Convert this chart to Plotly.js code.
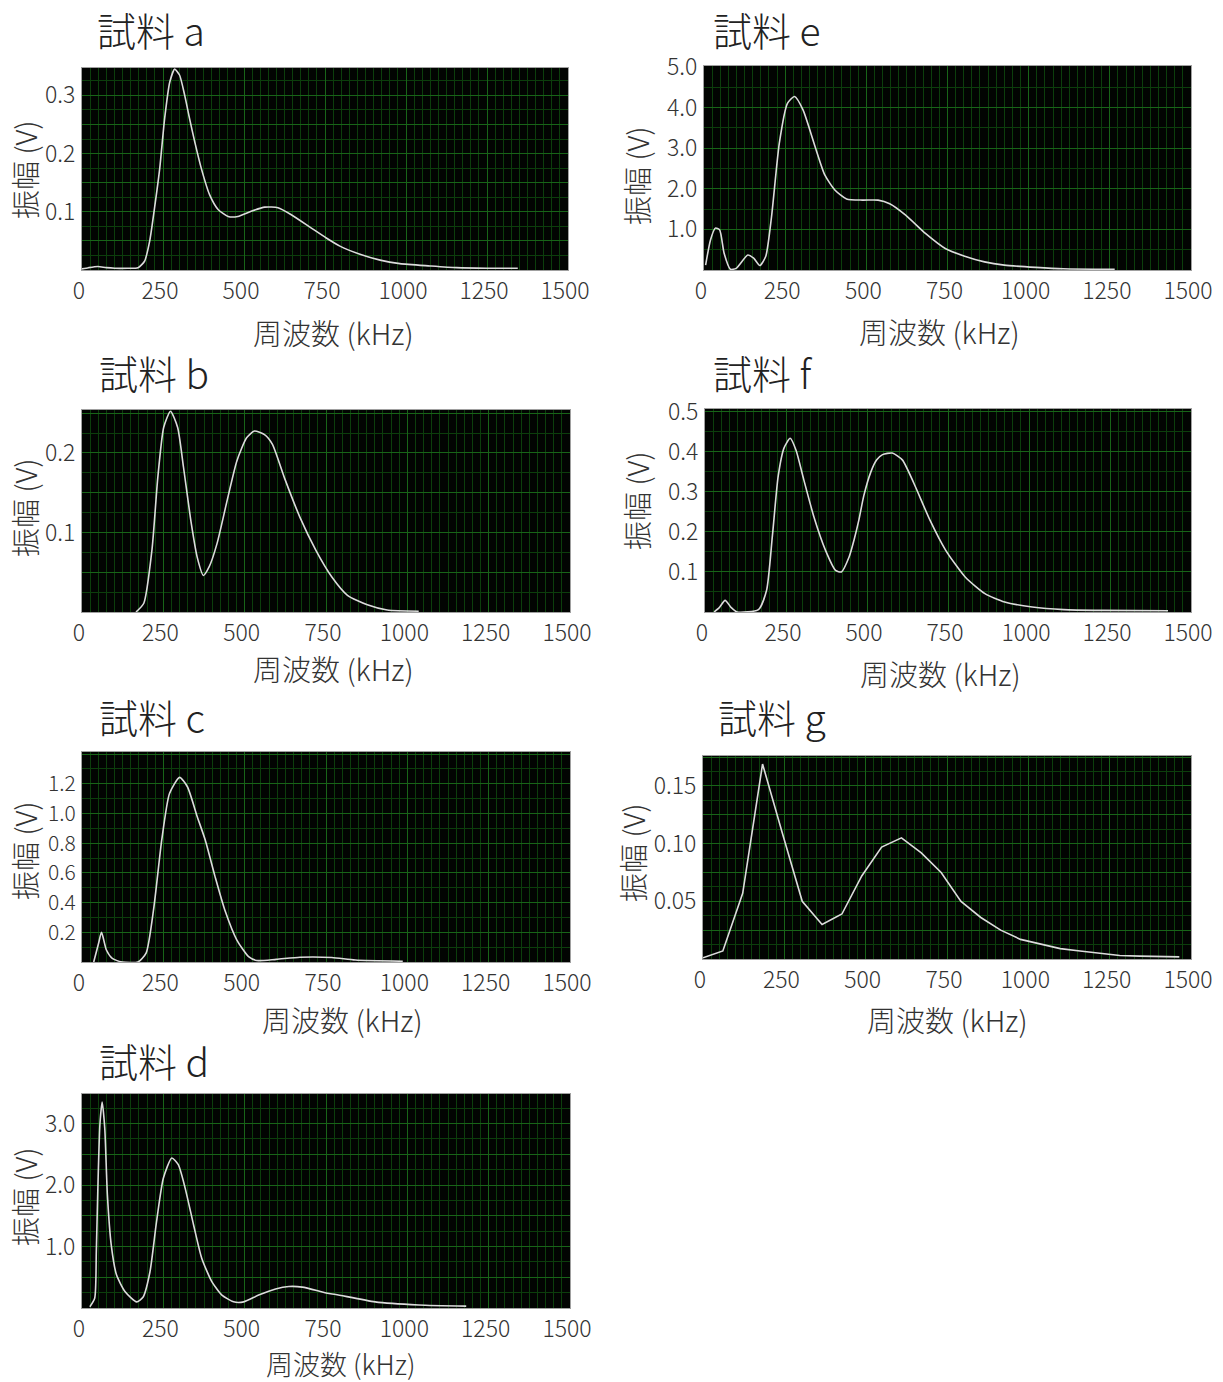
<!DOCTYPE html>
<html>
<head>
<meta charset="utf-8">
<script src="https://cdn.plot.ly/plotly-3.0.1.min.js"></script>
<style>
html,body{margin:0;padding:0;background:#ffffff;}
#chart{width:1223px;height:1382px;}
</style>
</head>
<body>
<div id="chart"></div>
<script>
// ---------- DATA ----------
const sampleNames = ['試料 a','試料 b','試料 c','試料 d','試料 e','試料 f','試料 g'];
const xAxisTitle = '周波数 (kHz)';
const yAxisTitle = '振幅 (V)';
const xTickVals = [0,250,500,750,1000,1250,1500];
const xTickText = ['0','250','500','750','1000','1250','1500'];

const freqA = [0,20,49,75,101,140,173,193,209,224,240,255,271,286,301,317,332,348,368,394,420,451,481,522,564,605,646,708,754,796,858,920,981,1074,1156,1250,1345];
const ampA  = [0.002,0.004,0.006,0.004,0.003,0.003,0.004,0.015,0.05,0.107,0.175,0.26,0.323,0.345,0.335,0.30,0.26,0.22,0.175,0.129,0.104,0.092,0.092,0.101,0.108,0.107,0.095,0.072,0.055,0.041,0.027,0.017,0.011,0.007,0.004,0.003,0.003];

const freqB = [166,190,215,233,251,272,294,312,336,354,373,391,415,446,476,506,530,561,585,622,670,719,768,816,877,938,1035];
const ampB  = [0,0.011,0.078,0.169,0.232,0.2525,0.232,0.182,0.111,0.069,0.046,0.057,0.086,0.14,0.19,0.219,0.2275,0.223,0.211,0.169,0.119,0.0775,0.044,0.021,0.009,0.0025,0.001];

const freqC = [36,51,60,75,93,124,172,197,221,245,269,300,324,354,379,409,439,476,512,537,597,670,768,840,986];
const ampC  = [0,0.126,0.2,0.081,0.025,0,0,0.06,0.37,0.82,1.135,1.243,1.18,0.98,0.82,0.575,0.35,0.148,0.036,0.01,0.018,0.032,0.03,0.013,0.005];

const freqD = [24,39,44,49,55,62,70,78,90,106,132,168,188,209,229,250,276,296,317,343,368,399,430,466,497,543,595,636,677,754,780,901,1035,1181];
const ampD  = [0.02,0.16,0.92,2.0,2.98,3.35,2.92,1.84,1.02,0.54,0.27,0.10,0.18,0.59,1.40,2.11,2.44,2.33,1.95,1.35,0.81,0.43,0.21,0.10,0.10,0.21,0.31,0.35,0.34,0.24,0.22,0.10,0.05,0.03];

const freqE = [5,20,35,48,62,81,99,135,153,172,190,208,232,257,279,305,342,372,403,439,488,536,572,621,682,743,803,864,925,1022,1107,1265];
const ampE  = [0.12,0.74,1.03,0.99,0.41,0.02,0.04,0.37,0.29,0.11,0.33,1.31,3.12,4.10,4.27,3.94,3.04,2.34,1.97,1.75,1.72,1.72,1.63,1.35,0.90,0.53,0.34,0.20,0.12,0.065,0.03,0.015];

const freqF = [28,44,62,81,99,165,190,208,226,244,263,281,305,336,372,403,421,445,460,475,490,512,530,548,578,609,645,694,743,803,864,925,1010,1107,1228,1429];
const ampF  = [0,0.011,0.029,0.011,0,0.006,0.054,0.19,0.34,0.41,0.434,0.404,0.33,0.238,0.154,0.104,0.10,0.138,0.18,0.23,0.29,0.35,0.38,0.393,0.397,0.38,0.321,0.23,0.154,0.0875,0.046,0.025,0.0125,0.006,0.004,0.003];

const freqG = [0,61,122,183,244,305,366,427,488,549,610,671,732,793,854,915,976,1037,1098,1159,1220,1281,1342,1403,1464];
const ampG  = [0.001,0.007,0.057,0.169,0.109,0.050,0.030,0.039,0.072,0.097,0.105,0.092,0.075,0.050,0.036,0.025,0.017,0.013,0.009,0.007,0.005,0.003,0.0025,0.002,0.0018];

// y tick values / labels per panel
const yTickValsA = [0.05,0.1,0.15,0.2,0.25,0.3];      const yTickTextA = ['','0.1','','0.2','','0.3'];
const yTickValsB = [0.05,0.1,0.15,0.2,0.25];          const yTickTextB = ['','0.1','','0.2',''];
const yTickValsC = [0.2,0.4,0.6,0.8,1.0,1.2,1.4];     const yTickTextC = ['0.2','0.4','0.6','0.8','1.0','1.2',''];
const yTickValsD = [0.5,1.0,1.5,2.0,2.5,3.0];         const yTickTextD = ['','1.0','','2.0','','3.0'];
const yTickValsE = [1,2,3,4,5];                       const yTickTextE = ['1.0','2.0','3.0','4.0','5.0'];
const yTickValsF = [0.1,0.2,0.3,0.4,0.5];             const yTickTextF = ['0.1','0.2','0.3','0.4','0.5'];
const yTickValsG = [0.025,0.05,0.075,0.1,0.125,0.15,0.175]; const yTickTextG = ['','0.05','','0.10','','0.15',''];

// ---------- PANEL GEOMETRY (pixels) ----------
const W = 1223, H = 1382;
const panels = [
  {f:freqA,a:ampA,tv:yTickValsA,tt:yTickTextA,minor:0.025,yr:[0,0.347],L:82,R:568,T:68,B:270, tx:95,ty:29, xtx:333,xty:332, xts:29, ytx:24,yty:170, yfs:23, shape:'spline'},
  {f:freqB,a:ampB,tv:yTickValsB,tt:yTickTextB,minor:0.025,yr:[0,0.254],L:82,R:570,T:410,B:612, tx:97,ty:372, xtx:333,xty:668, xts:29, ytx:24,yty:508, yfs:23, shape:'spline'},
  {f:freqC,a:ampC,tv:yTickValsC,tt:yTickTextC,minor:0.1,yr:[0,1.414],L:82,R:570,T:752,B:962, tx:97,ty:716, xtx:342,xty:1019, xts:29, ytx:24,yty:851, yfs:21, shape:'spline'},
  {f:freqD,a:ampD,tv:yTickValsD,tt:yTickTextD,minor:0.25,yr:[0,3.48],L:82,R:570,T:1094,B:1308, tx:97,ty:1060, xtx:340,xty:1363, xts:27, ytx:24,yty:1197, yfs:23, shape:'spline'},
  {f:freqE,a:ampE,tv:yTickValsE,tt:yTickTextE,minor:0.5,yr:[0,5.02],L:704,R:1191,T:66,B:270, tx:711,ty:29, xtx:939,xty:331, xts:29, ytx:636,yty:175, yfs:23, shape:'spline'},
  {f:freqF,a:ampF,tv:yTickValsF,tt:yTickTextF,minor:0.05,yr:[0,0.507],L:705,R:1191,T:409,B:612, tx:711,ty:372, xtx:940,xty:673, xts:29, ytx:636,yty:500, yfs:23, shape:'spline'},
  {f:freqG,a:ampG,tv:yTickValsG,tt:yTickTextG,minor:0.0125,yr:[0,0.176],L:703,R:1191,T:756,B:959, tx:716,ty:716, xtx:947,xty:1019, xts:29, ytx:632,yty:853, yfs:23, shape:'linear'}
];

const tickFamily = "'Noto Sans CJK JP','Noto Sans',sans-serif";
const cjkFamily = "'Noto Sans CJK JP','Noto Sans',sans-serif";
const majorGrid = 'rgb(24,100,24)';
const minorGrid = 'rgb(12,62,12)';

const traces = [];
const layout = {
  width: W, height: H,
  margin: {l:0, r:0, t:0, b:0},
  paper_bgcolor: '#ffffff',
  plot_bgcolor: '#020402',
  showlegend: false,
  annotations: []
};

panels.forEach((p, i) => {
  const n = i + 1;
  const xk = n === 1 ? 'xaxis' : 'xaxis' + n;
  const yk = n === 1 ? 'yaxis' : 'yaxis' + n;
  traces.push({
    x: p.f, y: p.a,
    xaxis: 'x' + n, yaxis: 'y' + n,
    type: 'scatter', mode: 'lines',
    line: {color: '#dcdcdc', width: 1.6, shape: p.shape, smoothing: 0.6},
    hoverinfo: 'skip', cliponaxis: true
  });
  layout[xk] = {
    domain: [p.L / W, p.R / W], anchor: 'y' + n,
    range: [0, 1500], tickmode: 'array', tickvals: xTickVals, ticktext: xTickText,
    showgrid: true, gridcolor: majorGrid, gridwidth: 1,
    minor: {tickmode: 'linear', dtick: 25, tick0: 0, showgrid: true, gridcolor: minorGrid, gridwidth: 1, ticks: ''},
    showline: true, mirror: true, linecolor: '#a0a0a0', linewidth: 1,
    zeroline: false, ticks: '', ticklabelstandoff: 0, ticklabelshift: -3,
    tickfont: {family: tickFamily, size: 23, color: '#333333', weight: 300}, fixedrange: true
  };
  layout[yk] = {
    domain: [1 - p.B / H, 1 - p.T / H], anchor: 'x' + n,
    range: p.yr, tickmode: 'array', tickvals: p.tv, ticktext: p.tt,
    showgrid: true, gridcolor: majorGrid, gridwidth: 1,
    minor: {tickmode: 'linear', dtick: p.minor, tick0: 0, showgrid: true, gridcolor: minorGrid, gridwidth: 1, ticks: ''},
    showline: true, mirror: true, linecolor: '#a0a0a0', linewidth: 1,
    zeroline: false, ticks: '', ticklabelstandoff: 1,
    tickfont: {family: tickFamily, size: p.yfs, color: '#333333', weight: 300}, fixedrange: true
  };
  // subplot title
  layout.annotations.push({
    text: sampleNames[i], xref: 'paper', yref: 'paper',
    x: p.tx / W, y: 1 - p.ty / H, xanchor: 'left', yanchor: 'middle',
    showarrow: false, font: {family: cjkFamily, size: 39, color: '#222222', weight: 300}
  });
  // x axis title
  layout.annotations.push({
    text: xAxisTitle, xref: 'paper', yref: 'paper',
    x: p.xtx / W, y: 1 - p.xty / H, xanchor: 'center', yanchor: 'middle',
    showarrow: false, borderpad: 0, font: {family: cjkFamily, size: p.xts, color: '#333333', weight: 300}
  });
  // y axis title
  layout.annotations.push({
    text: yAxisTitle, xref: 'paper', yref: 'paper', textangle: -90,
    x: p.ytx / W, y: 1 - p.yty / H, xanchor: 'center', yanchor: 'middle',
    showarrow: false, borderpad: 0, font: {family: cjkFamily, size: 29, color: '#333333', weight: 300}
  });
});

Plotly.newPlot('chart', traces, layout, {staticPlot: true, displayModeBar: false});
</script>
</body>
</html>
